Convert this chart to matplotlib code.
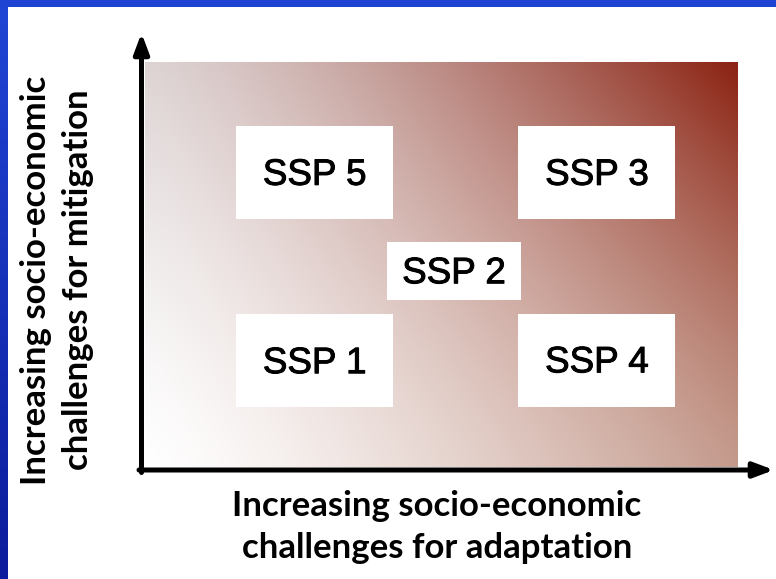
import numpy as np
import matplotlib.pyplot as plt
import matplotlib.patheffects as pe
from matplotlib.patches import Rectangle

# ------------------------------------------------------------
# Data: SSP positions on the two challenge axes (0..1)
# ------------------------------------------------------------

ssp_labels = ["SSP 1", "SSP 2", "SSP 3", "SSP 4", "SSP 5"]
adaptation = [0.286, 0.521, 0.762, 0.762, 0.286]
mitigation = [0.262, 0.484, 0.727, 0.264, 0.727]

x_label = "Increasing socio-economic\nchallenges for adaptation"
y_label = "Increasing socio-economic\nchallenges for mitigation"

# ------------------------------------------------------------
# Layout (pixels of the 776x579 picture)
# ------------------------------------------------------------

W, H = 776, 579
BLUE_TOP = "#1f44d4"


def frac(left, top, right, bottom):
    return [left / W, 1 - bottom / H, (right - left) / W, (bottom - top) / H]


fig = plt.figure(figsize=(W / 100, H / 100), dpi=100)
fig.patch.set_facecolor("white")

# gradient panel
ax = fig.add_axes(frac(145, 62, 738, 467))
u = np.linspace(0, 1, 300)
v = np.linspace(0, 1, 200)
uu, vv = np.meshgrid(u, v)
a = uu ** 1.3
b = vv ** 1.3
bl = np.array([255, 255, 255]) / 255
br = np.array([196, 154, 140]) / 255
tl = np.array([221, 211, 211]) / 255
tr = np.array([139, 34, 18]) / 255
grad = (bl * ((1 - a) * (1 - b))[..., None] + br * (a * (1 - b))[..., None]
        + tl * ((1 - a) * b)[..., None] + tr * (a * b)[..., None])
ax.imshow(grad, extent=(0, 1, 0, 1), origin="lower", aspect="auto",
          interpolation="bilinear")
ax.set_xlim(0, 1)
ax.set_ylim(0, 1)
ax.axis("off")

for lab, xa, ym in zip(ssp_labels, adaptation, mitigation):
    if lab == "SSP 2":
        w, h = 0.226, 0.143
    else:
        w, h = 0.265, 0.23
    ax.add_patch(Rectangle((xa - w / 2, ym - h / 2), w, h,
                           facecolor="white", edgecolor="none", zorder=2))
    ax.annotate(lab, (xa, ym), xytext=(0, -2), textcoords="offset points",
                ha="center", va="center", fontsize=26.5,
                family="Liberation Sans", color="black", zorder=3,
                path_effects=[pe.withStroke(linewidth=0.7, foreground="black")])

# overlay in pixel coordinates: frame and arrows
ov = fig.add_axes([0, 0, 1, 1], zorder=5)
ov.patch.set_alpha(0)
ov.add_patch(Rectangle((0, 0), W, 7, facecolor=BLUE_TOP, edgecolor="none"))
side = np.linspace(0, 1, 100)[:, None, None]
top_c = np.array([33, 70, 213]) / 255
bot_c = np.array([12, 28, 156]) / 255
ov.imshow(top_c * (1 - side) + bot_c * side, extent=(0, 8, H, 0),
          aspect="auto", interpolation="bilinear")

arrow = dict(arrowstyle="-|>,head_length=1.2,head_width=0.45", lw=3.6,
             color="black", mutation_scale=10, shrinkA=0, shrinkB=0)
ov.annotate("", xy=(141.5, 33), xytext=(141.5, 472.5), arrowprops=arrow)
ov.annotate("", xy=(774, 470), xytext=(139, 470), arrowprops=arrow)

ov.set_xlim(0, W)
ov.set_ylim(H, 0)
ov.axis("off")

fig.text(437 / W, 1 - 490 / H, x_label, ha="center", va="top", fontsize=25,
         family="Lato", weight="bold", linespacing=1.38,
         multialignment="center")
fig.text(57 / W, 1 - 280 / H, y_label, ha="center", va="center",
         rotation=90, fontsize=25, family="Lato", weight="bold",
         linespacing=1.38, multialignment="center")

fig.savefig("out.png", dpi=100)
